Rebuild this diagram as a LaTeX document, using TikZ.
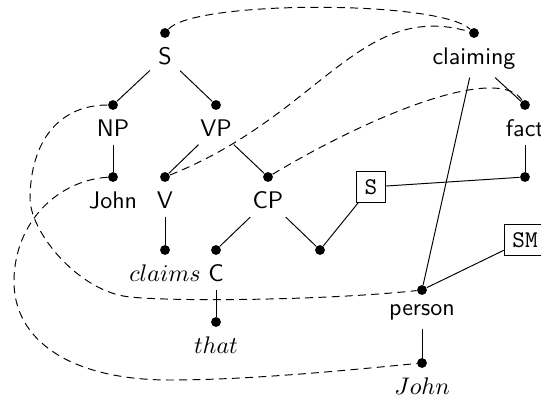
\documentclass[tikz,border=0pt]{standalone}
\begin{document}
\begin{tikzpicture}[x=0.41667pt,y=-0.41667pt,
  dot/.style={circle,fill,inner sep=0pt,minimum size=4.1pt},
  lab/.style={anchor=north,font=\sffamily,inner sep=3.33pt},
  ilab/.style={anchor=north,inner sep=3.33pt},
  tbox/.style={draw,rectangle,font=\ttfamily,inner sep=3.33pt},
  dl/.style={dash pattern=on 3.3pt off 2.2pt}]
\useasboundingbox (0,0) rectangle (541,399);
% dots
\node[dot] (Sd) at (165,33) {};
\node[dot] (NPd) at (113,105) {};
\node[dot] (VPd) at (216,105) {};
\node[dot] (Johnd) at (113,177) {};
\node[dot] (Vd) at (165,177) {};
\node[dot] (CPd) at (268,177) {};
\node[dot] (claimsd) at (165,250) {};
\node[dot] (Cd) at (216,250) {};
\node[dot] (thatd) at (216,322) {};
\node[dot] (ed) at (320,250) {};
\node[dot] (claimingd) at (474,33) {};
\node[dot] (factd) at (525,105) {};
\node[dot] (fact2d) at (525,177) {};
\node[dot] (persond) at (422,290) {};
\node[dot] (John2d) at (422,363) {};
% labels
\node[lab] (Sl) at (165,39) {S};
\node[lab] (NPl) at (113,111) {NP};
\node[lab] (VPl) at (216,111) {VP};
\node[lab] (Johnl) at (113,183) {John};
\node[lab] (Vl) at (165,183) {V};
\node[lab] (CPl) at (268,183) {CP};
\node[ilab] (claimsl) at (165,256) {$claims$};
\node[lab] (Cl) at (216,256) {C};
\node[ilab] (thatl) at (216,328) {$that$};
\node[lab] (claimingl) at (474,39) {claiming};
\node[lab] (factl) at (525,111) {fact};
\node[lab] (personl) at (422,296) {person};
\node[ilab] (John2l) at (422,369) {$John$};
% boxes
\node[tbox] (Sbox) at (371,187) {S};
\node[tbox] (SMbox) at (525,240) {SM};
% solid edges
\draw (Sl) -- (NPd);
\draw (Sl) -- (VPd);
\draw (NPl) -- (Johnd);
\draw (VPl) -- (Vd);
\draw (VPl) -- (CPd);
\draw (Vl) -- (claimsd);
\draw (CPl) -- (Cd);
\draw (CPl) -- (ed);
\draw (Cl) -- (thatd);
\draw (ed) -- (Sbox);
\draw (claimingl) -- (factd);
\draw (claimingl) -- (persond);
\draw (factl) -- (fact2d);
\draw (Sbox) -- (fact2d);
\draw (SMbox) -- (persond);
\draw (personl) -- (John2d);
% dashed curves
\draw[dl] (Sd) .. controls (195,0) and (440,0) .. (claimingd);
\draw[dl] (Vd) .. controls (320,115) and (360,0) .. (claimingd);
\draw[dl] (CPd) .. controls (380,110) and (500,65) .. (factd);
\draw[dl] (NPd) .. controls (60,105) and (30,140) .. (30,200)
  .. controls (32,235) and (80,292) .. (130,297)
  .. controls (180,302) and (330,300) .. (persond);
\draw[dl] (Johnd) .. controls (60,180) and (15,220) .. (14,280)
  .. controls (13,340) and (70,380) .. (170,380)
  .. controls (250,380) and (350,370) .. (John2d);
\end{tikzpicture}
\end{document}
